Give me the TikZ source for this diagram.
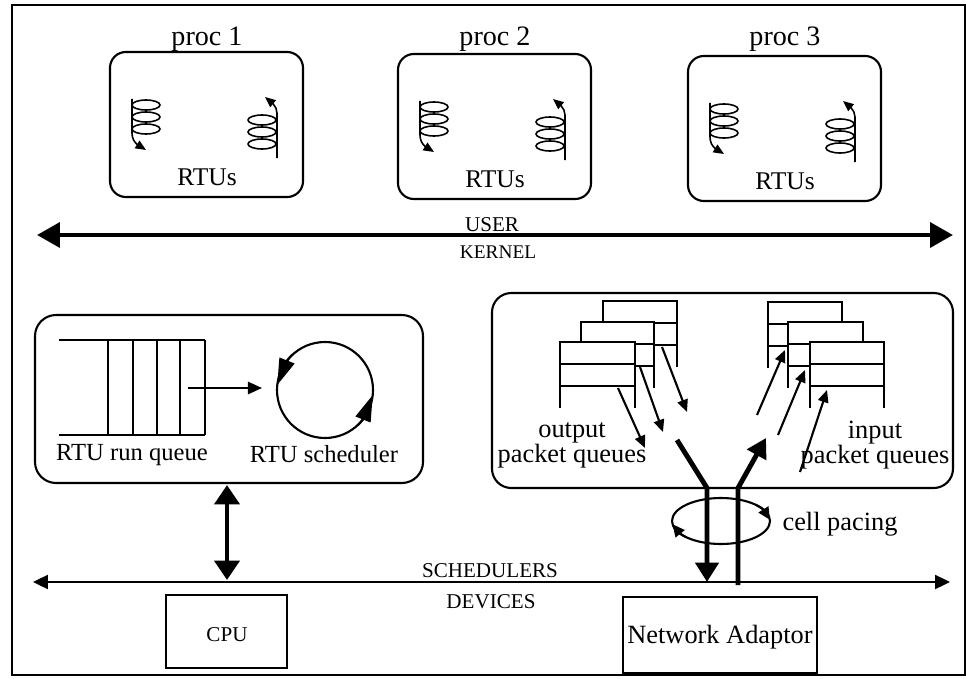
\documentclass[tikz,border=0pt]{standalone}
\usepackage{fontspec}
\setmainfont{Liberation Serif}
\usetikzlibrary{positioning}
\usetikzlibrary{arrows.meta}
\usetikzlibrary{bending}

\tikzset{
  procbox/.style={draw, line width=1.2pt, rounded corners=9pt},
  kernbox/.style={draw, line width=1.2pt, rounded corners=11pt},
  devbox/.style={draw, line width=1.2pt},
  proclbl/.style={inner sep=0pt, font=\fontsize{16}{18}\selectfont},
  rtulbl/.style={inner sep=0pt, font=\fontsize{14.5}{16}\selectfont},
  layerlbl/.style={inner sep=0pt, font=\fontsize{11}{13}\selectfont},
  biglbl/.style={inner sep=0pt, font=\fontsize{15}{14.2}\selectfont, align=center},
  coil/.style={line width=0.9pt},
  coiltip/.style={coil, -{Triangle[length=6pt,width=5pt]}},
  qline/.style={line width=1.4pt},
  thinarr/.style={line width=1.2pt, -{Triangle[length=7pt,width=6pt]}},
  thickarr/.style={line width=2.8pt, -{Triangle[length=11pt,width=13pt]}},
}

\begin{document}
\begin{tikzpicture}[x=0.02cm, y=-0.02cm]
\useasboundingbox (0,0) rectangle (967,679);

\draw[line width=1.5pt] (12,5) rectangle (965,675);

% proc 1
\begin{scope}
{
\draw[procbox] (110,52) rectangle (303,197);
\node[proclbl] (proc1) at (207,39) {proc 1};
\node[rtulbl] (rtus1) at (207,177) {RTUs};

\draw[coil] (146,105) ellipse [x radius=14, y radius=5];
\draw[coil] (146,117) ellipse [x radius=14, y radius=5];
\draw[coil] (146,129) ellipse [x radius=14, y radius=5];
\draw[coiltip] (132,99) -- (132,133) .. controls (132,142) and (138,146) .. (146,150);

\draw[coil] (262,120) ellipse [x radius=14, y radius=5];
\draw[coil] (262,132) ellipse [x radius=14, y radius=5];
\draw[coil] (262,144) ellipse [x radius=14, y radius=5];
\draw[coiltip] (277,158) -- (277,113) .. controls (277,106) and (271,101) .. (265,97);
}
\end{scope}

% proc 2
\begin{scope}[shift={(288,2)}]
{
\draw[procbox] (110,52) rectangle (303,197);
\node[proclbl] (proc2) at (207,37) {proc 2};
\node[rtulbl] (rtus2) at (207,177) {RTUs};

\draw[coil] (146,105) ellipse [x radius=14, y radius=5];
\draw[coil] (146,117) ellipse [x radius=14, y radius=5];
\draw[coil] (146,129) ellipse [x radius=14, y radius=5];
\draw[coiltip] (132,99) -- (132,133) .. controls (132,142) and (138,146) .. (146,150);

\draw[coil] (262,120) ellipse [x radius=14, y radius=5];
\draw[coil] (262,132) ellipse [x radius=14, y radius=5];
\draw[coil] (262,144) ellipse [x radius=14, y radius=5];
\draw[coiltip] (277,158) -- (277,113) .. controls (277,106) and (271,101) .. (265,97);
}
\end{scope}

% proc 3
\begin{scope}[shift={(578,4)}]
{
\draw[procbox] (110,52) rectangle (303,197);
\node[proclbl] (proc3) at (207,35) {proc 3};
\node[rtulbl] (rtus3) at (207,177) {RTUs};

\draw[coil] (146,105) ellipse [x radius=14, y radius=5];
\draw[coil] (146,117) ellipse [x radius=14, y radius=5];
\draw[coil] (146,129) ellipse [x radius=14, y radius=5];
\draw[coiltip] (132,99) -- (132,133) .. controls (132,142) and (138,146) .. (146,150);

\draw[coil] (262,120) ellipse [x radius=14, y radius=5];
\draw[coil] (262,132) ellipse [x radius=14, y radius=5];
\draw[coil] (262,144) ellipse [x radius=14, y radius=5];
\draw[coiltip] (277,158) -- (277,113) .. controls (277,106) and (271,101) .. (265,97);
}
\end{scope}

% user / kernel boundary
\coordinate (userL) at (37,235);
\coordinate (userR) at (953,235);
\draw[line width=2.5pt, {Triangle[length=13pt,width=14pt]}-{Triangle[length=13pt,width=14pt]}] (userL) -- (userR);
\node[layerlbl, font=\fontsize{12}{14}\selectfont] (user) at (492,225) {USER};
\node[layerlbl] (kernel) at (498,252) {KERNEL};

% RTU run queue and scheduler
\draw[kernbox, rounded corners=12pt] (35,315) rectangle (423,483);
\draw[qline, line width=1.2pt] (59,340) -- (205,340);
\draw[qline, line width=1.2pt] (59,435) -- (205,435);
\draw[qline, line width=1.2pt] (108,340) -- (108,435);
\draw[qline, line width=1.2pt] (133,340) -- (133,435);
\draw[qline, line width=1.2pt] (157,340) -- (157,435);
\draw[qline, line width=1.2pt] (180,340) -- (180,435);
\draw[qline, line width=1.2pt] (205,340) -- (205,435);
\coordinate (runq) at (188,388);
\coordinate (sched) at (262,388);
\draw[thinarr, -{Triangle[length=8pt,width=7pt]}] (runq) -- (sched);

\draw[line width=1.2pt] (325,390) circle [radius=48];
\draw[line width=1.2pt, -{Triangle[length=15pt,width=9pt]}] (325,390) ++(228:48) arc[start angle=228, end angle=186, radius=48];
\draw[line width=1.2pt, -{Triangle[length=15pt,width=9pt]}] (325,390) ++(48:48) arc[start angle=48, end angle=6, radius=48];

\node[rtulbl, font=\fontsize{14}{16}\selectfont] (runqlbl) at (132,455) {RTU run queue};
\node[rtulbl, font=\fontsize{14}{16}\selectfont] (schedlbl) at (324,454) {RTU scheduler};

% packet queues
\draw[kernbox] (492,293) rectangle (953,488);

% output queues, back to front
\fill[white] (603,301) rectangle (677,367);
\draw[qline] (603,367) -- (603,301) -- (677,301) -- (677,367);
\draw[qline] (603,323) -- (677,323) (603,345) -- (677,345);
\fill[white] (581,322) rectangle (654,388);
\draw[qline] (581,388) -- (581,322) -- (654,322) -- (654,388);
\draw[qline] (581,344) -- (654,344) (581,366) -- (654,366);
\fill[white] (560,342) rectangle (635,408);
\draw[qline] (560,408) -- (560,342) -- (635,342) -- (635,408);
\draw[qline] (560,364) -- (635,364) (560,386) -- (635,386);

% input queues, back to front
\fill[white] (768,302) rectangle (842,368);
\draw[qline] (768,368) -- (768,302) -- (842,302) -- (842,368);
\draw[qline] (768,324) -- (842,324) (768,346) -- (842,346);
\fill[white] (788,322) rectangle (863,388);
\draw[qline] (788,388) -- (788,322) -- (863,322) -- (863,388);
\draw[qline] (788,344) -- (863,344) (788,366) -- (863,366);
\fill[white] (810,342) rectangle (884,408);
\draw[qline] (810,408) -- (810,342) -- (884,342) -- (884,408);
\draw[qline] (810,364) -- (884,364) (810,386) -- (884,386);

\coordinate (oq1) at (618,388); \coordinate (oq1e) at (645,448);
\coordinate (oq2) at (640,367); \coordinate (oq2e) at (663,432);
\coordinate (oq3) at (662,347); \coordinate (oq3e) at (687,412);
\draw[thinarr] (oq1) -- (oq1e);
\draw[thinarr] (oq2) -- (oq2e);
\draw[thinarr] (oq3) -- (oq3e);

\coordinate (iq1) at (757,415); \coordinate (iq1e) at (785,350);
\coordinate (iq2) at (778,435); \coordinate (iq2e) at (805,370);
\coordinate (iq3) at (800,472); \coordinate (iq3e) at (827,390);
\draw[thinarr] (iq1) -- (iq1e);
\draw[thinarr] (iq2) -- (iq2e);
\draw[thinarr] (iq3) -- (iq3e);

\node[biglbl] (outlbl) at (572,445) {output\\packet queues};
\node[biglbl] (inlbl) at (875,445) {input\\packet queues};

% schedulers / devices boundary
\coordinate (schedL) at (33,582);
\coordinate (schedR) at (950,582);
\draw[line width=1.1pt, {Triangle[length=8.5pt,width=8pt]}-{Triangle[length=8.5pt,width=8pt]}] (schedL) -- (schedR);
\node[layerlbl, font=\fontsize{12}{14}\selectfont] (schedulers) at (490,571) {SCHEDULERS};
\node[layerlbl, font=\fontsize{12}{14}\selectfont] (devices) at (491,602) {DEVICES};

\coordinate (kerntop) at (227,485);
\coordinate (kernbot) at (227,580);
\draw[line width=2.8pt, {Triangle[length=11pt,width=14pt]}-{Triangle[length=11pt,width=14pt]}] (kerntop) -- (kernbot);

% cell pacing
\coordinate (outA) at (677,440); \coordinate (outB) at (707,488); \coordinate (outC) at (707,582);
\coordinate (inA) at (738,585); \coordinate (inB) at (738,488); \coordinate (inC) at (766,438);
\draw[thickarr] (outA) -- (outB) -- (outC);
\draw[thickarr, -{Triangle[length=11pt,width=12pt]}] (inA) -- (inB) -- (inC);

\draw[line width=1.2pt] (721,521) ellipse [x radius=49, y radius=23];
\draw[line width=1.2pt, -{Triangle[length=7pt,width=6.5pt]}] (721,521) ++(315:49 and 23) arc[start angle=315, end angle=357, x radius=49, y radius=23];
\draw[line width=1.2pt, -{Triangle[length=7pt,width=6.5pt]}] (721,521) ++(135:49 and 23) arc[start angle=135, end angle=172, x radius=49, y radius=23];
\node[biglbl] (pacing) at (840,524) {cell pacing};

% devices
\draw[devbox] (166,595) rectangle (287,668);
\node[layerlbl, font=\fontsize{12}{14}\selectfont] (cpu) at (227,635) {CPU};
\draw[devbox] (623,597) rectangle (817,673);
\node[biglbl] (adaptor) at (720,637) {Network Adaptor};

\end{tikzpicture}
\end{document}
